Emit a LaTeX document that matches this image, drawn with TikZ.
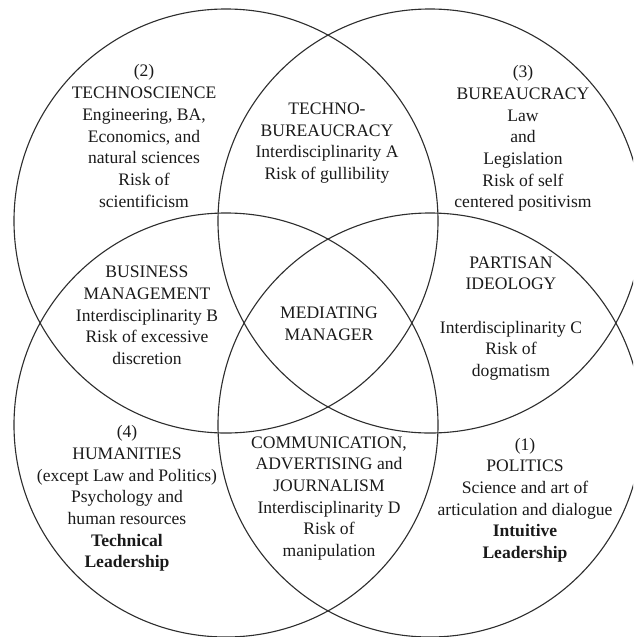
\documentclass[tikz,border=0pt]{standalone}
\usepackage{fontspec}
\setmainfont{Liberation Serif}
\definecolor{ink}{HTML}{1A1A1A}
\definecolor{rim}{HTML}{2E2E2E}
\begin{document}
\begin{tikzpicture}[x=0.03cm,y=-0.03cm,
  field/.style={circle,draw=rim,line width=0.95pt,minimum size=12.72cm,inner sep=0pt},
  lbl/.style={align=center,text=ink,inner sep=0pt,font=\fontsize{15}{18.5}\selectfont}]
  \clip (0,0) rectangle (633,637);
  % the four fields
  \node[field] (techsci) at (226,221) {};
  \node[field] (bureau)  at (430,221) {};
  \node[field] (human)   at (226,425) {};
  \node[field] (polit)   at (430,425) {};
  % top row
  \node[lbl] (lblTwo) at (144,136) {(2)\\TECHNOSCIENCE\\Engineering, BA,\\Economics, and\\natural sciences\\Risk of\\scientificism};
  \node[lbl] (lblA) at (327,143) {TECHNO-\\BUREAUCRACY\\Interdisciplinarity A\\Risk of gullibility};
  \node[lbl] (lblThree) at (523,138.5) {(3)\\BUREAUCRACY\\Law\\and\\Legislation\\Risk of self\\centered positivism};
  % middle row
  \node[lbl] (lblB) at (147,315.5) {BUSINESS\\MANAGEMENT\\Interdisciplinarity B\\Risk of excessive\\discretion};
  \node[lbl] (lblMid) at (329,324) {MEDIATING\\MANAGER};
  \node[lbl] (lblC) at (511,318.5) {PARTISAN\\IDEOLOGY\\[18.5pt]Interdisciplinarity C\\Risk of\\dogmatism};
  % bottom row
  \node[lbl] (lblFour) at (127,498.5) {(4)\\HUMANITIES\\(except Law and Politics)\\Psychology and\\human resources\\\textbf{Technical}\\\textbf{Leadership}};
  \node[lbl] (lblD) at (329,498.5) {COMMUNICATION,\\ADVERTISING and\\JOURNALISM\\Interdisciplinarity D\\Risk of\\manipulation};
  \node[lbl] (lblOne) at (525,500) {(1)\\POLITICS\\Science and art of\\articulation and dialogue\\\textbf{Intuitive}\\\textbf{Leadership}};
\end{tikzpicture}
\end{document}
